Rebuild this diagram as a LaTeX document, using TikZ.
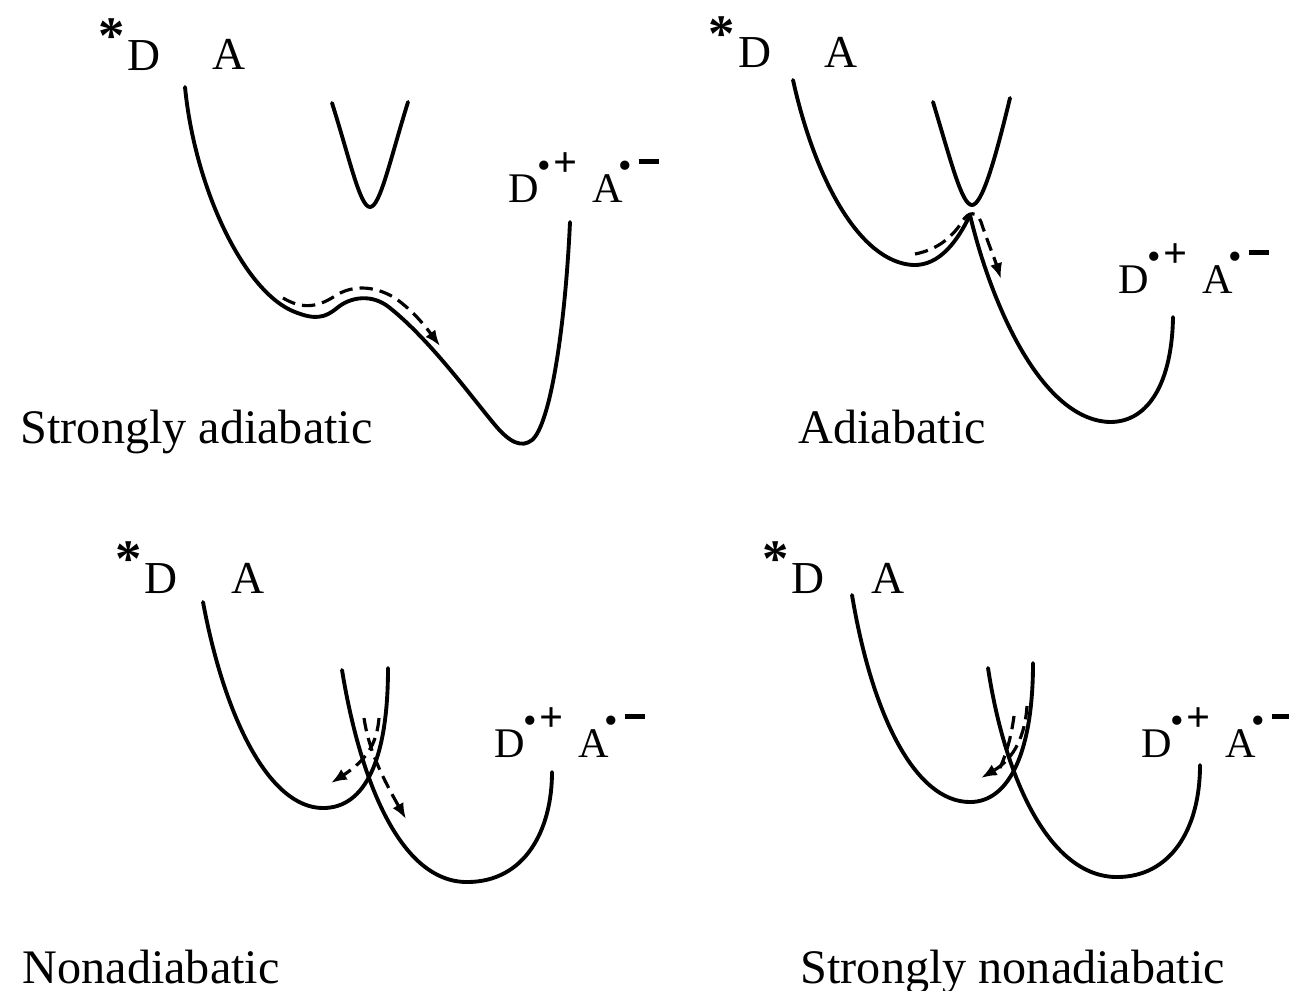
\documentclass[tikz,border=0pt]{standalone}
\usepackage{fontspec}
\setmainfont{Liberation Serif}
\usetikzlibrary{arrows.meta}
\newcommand\radbullet{\raisebox{0.55em}{\fontsize{11}{12}\selectfont\textbullet}}
\newcommand\radplus{\kern-0.04em\radbullet\kern0.06em\raisebox{0.6em}{\fontsize{12}{12}\selectfont\bfseries+}}
\newcommand\radminus{\kern-0.12em\radbullet\kern0.16em\rule[0.9em]{0.48em}{0.11em}}
\newcommand\products{D\radplus\kern0.36em A\radminus}
\begin{document}
\begin{tikzpicture}[x=0.01cm,y=-0.01cm,
  curve/.style={line width=1.1pt, line cap=round},
  wave/.style={line width=0.9pt, dash pattern=on 3.8pt off 2pt},
  wavearrow/.style={wave, -{Latex[length=4.5pt,width=3.5pt]}},
  lab/.style={font=\fontsize{13.7}{16}\selectfont, inner sep=0pt, anchor=base west},
  spec/.style={font=\fontsize{13}{15}\selectfont, inner sep=0pt, anchor=base west},
  prod/.style={font=\fontsize{12}{14}\selectfont, inner sep=0pt, anchor=base west},
  star/.style={font=\fontsize{15}{16}\selectfont\bfseries, inner sep=0pt}]
\useasboundingbox[fill=white] (0,0) rectangle (1289,990);

% ---------- Panel 1: strongly adiabatic ----------
\node[star] (s1) at (112,36) {*};
\node[spec] (d1) at (127,70) {D};
\node[spec] (a1) at (212,69) {A};
\node[prod] (p1) at (508,202) {\products};
\node[lab] (t1) at (20,443) {Strongly adiabatic};
\draw[curve] (185,87) .. controls (195,190) and (245,293) .. (295,312)
  .. controls (315,320) and (325,318) .. (337,308)
  .. controls (350,297) and (372,293) .. (390,308)
  .. controls (430,340) and (470,395) .. (495,425)
  .. controls (510,443) and (522,448) .. (532,440)
  .. controls (550,425) and (565,330) .. (570,222);
\draw[curve] (332,103) .. controls (350,160) and (360,207) .. (370,207)
  .. controls (380,207) and (390,160) .. (408,102);
\draw[wavearrow] (283,298) .. controls (300,308) and (315,309) .. (335,296)
  .. controls (350,286) and (372,284) .. (395,298)
  .. controls (415,312) and (428,330) .. (440,346);

% ---------- Panel 2: adiabatic ----------
\node[star] (s2) at (722,34) {*};
\node[spec] (d2) at (738,67) {D};
\node[spec] (a2) at (824,67) {A};
\node[prod] (p2) at (1118,293) {\products};
\node[lab] (t2) at (798,443) {Adiabatic};
\draw[curve] (793,80) .. controls (815,180) and (860,262) .. (913,265)
  .. controls (940,266) and (958,240) .. (970,215);
\draw[curve] (970,215) .. controls (990,300) and (1040,420) .. (1110,422)
  .. controls (1150,422) and (1172,380) .. (1173,317);
\draw[curve] (933,102) .. controls (952,165) and (962,205) .. (972,205)
  .. controls (982,205) and (995,160) .. (1010,98);
\draw[wavearrow] (915,254) .. controls (935,250) and (950,240) .. (962,222)
  .. controls (968,211) and (977,211) .. (981,222)
  .. controls (987,240) and (995,260) .. (1001,279);

% ---------- Panel 3: nonadiabatic ----------
\node[star] (s3) at (129,559) {*};
\node[spec] (d3) at (144,593) {D};
\node[spec] (a3) at (231,593) {A};
\node[prod] (p3) at (494,757) {\products};
\node[lab] (t3) at (22,983) {Nonadiabatic};
\draw[curve] (203,602) .. controls (225,720) and (270,808) .. (323,808)
  .. controls (365,808) and (388,760) .. (388,668);
\draw[curve] (342,670) .. controls (360,780) and (400,882) .. (467,882)
  .. controls (525,882) and (552,830) .. (552,772);
\draw[wavearrow] (379,718) .. controls (377,740) and (370,758) .. (331,783);
\draw[wavearrow] (364,718) .. controls (368,745) and (378,770) .. (406,819);

% ---------- Panel 4: strongly nonadiabatic ----------
\node[star] (s4) at (776,559) {*};
\node[spec] (d4) at (791,593) {D};
\node[spec] (a4) at (871,593) {A};
\node[prod] (p4) at (1141,757) {\products};
\node[lab] (t4) at (800,983) {Strongly nonadiabatic};
\draw[curve] (852,595) .. controls (872,715) and (915,802) .. (970,802)
  .. controls (1010,802) and (1033,750) .. (1033,663);
\draw[curve] (988,668) .. controls (1005,780) and (1050,877) .. (1117,877)
  .. controls (1170,877) and (1200,830) .. (1200,765);
\draw[wavearrow] (1027,706) .. controls (1025,735) and (1015,758) .. (981,778);
\draw[wave] (1014,716) .. controls (1011,738) and (1006,755) .. (999,770);
\end{tikzpicture}
\end{document}
